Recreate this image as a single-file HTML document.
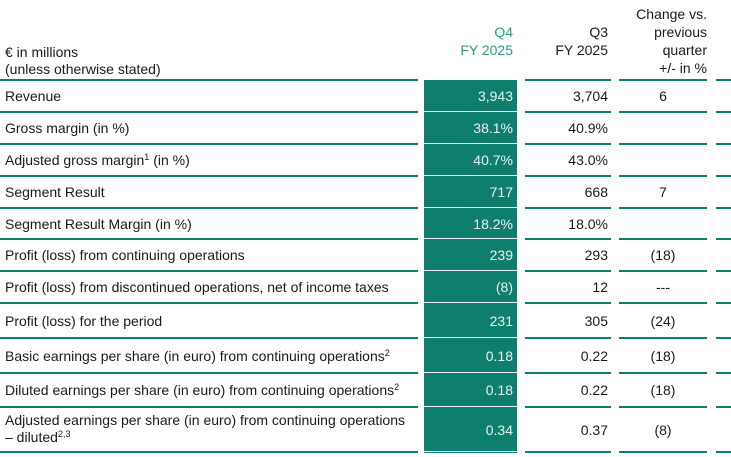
<!DOCTYPE html>
<html><head><meta charset="utf-8"><style>
body{margin:0;width:731px;height:457px;background:#fff;font-family:"Liberation Sans",sans-serif;font-size:14px;color:#1a1a1a;position:relative;overflow:hidden}
.a{position:absolute;white-space:nowrap;line-height:17px}
.ln{position:absolute;height:2px;background:#0e7f6e}
.g{position:absolute;left:424px;width:93px;top:80px;height:373px;background:#0e7f6e}
.wl{position:absolute;left:424px;width:93px;height:1px;background:#e8f3f0}
.v{position:absolute;text-align:right;white-space:nowrap;line-height:17px}
.c{position:absolute;text-align:center;white-space:nowrap;line-height:17px}
sup{font-size:9px;line-height:0;vertical-align:5px}
</style></head><body>
<div class="g"></div>
<div class="a" style="left:5px;top:44px">€ in millions</div>
<div class="a" style="left:5px;top:61px">(unless otherwise stated)</div>
<div class="v" style="left:424px;width:89px;top:24px;color:#2a9a88">Q4</div>
<div class="v" style="left:424px;width:89px;top:42px;color:#2a9a88">FY 2025</div>
<div class="v" style="left:525px;width:83px;top:24px">Q3</div>
<div class="v" style="left:525px;width:83px;top:42px">FY 2025</div>
<div class="v" style="left:619px;width:88px;top:6px">Change vs.</div>
<div class="v" style="left:619px;width:88px;top:24px">previous</div>
<div class="v" style="left:619px;width:88px;top:42px">quarter</div>
<div class="v" style="left:619px;width:88px;top:60px">+/- in %</div>
<div id="rows"></div>
<script>
var rows=[
[80,112,"Revenue","3,943","3,704","6"],
[112,144,"Gross margin (in %)","38.1%","40.9%",""],
[144,176,"Adjusted gross margin<sup>1</sup> (in %)","40.7%","43.0%",""],
[176,208,"Segment Result","717","668","7"],
[208,239,"Segment Result Margin (in %)","18.2%","18.0%",""],
[239,271,"Profit (loss) from continuing operations","239","293","(18)"],
[271,303,"Profit (loss) from discontinued operations, net of income taxes","(8)","12","---"],
[303,338,"Profit (loss) for the period","231","305","(24)"],
[338,373,"Basic earnings per share (in euro) from continuing operations<sup>2</sup>","0.18","0.22","(18)"],
[373,407,"Diluted earnings per share (in euro) from continuing operations<sup>2</sup>","0.18","0.22","(18)"],
[407,452,"Adjusted earnings per share (in euro) from continuing operations<br>– diluted<sup>2,3</sup>","0.34","0.37","(8)"]];
var h="";
function line(y){h+='<div class="ln" style="left:0;width:418px;top:'+y+'px"></div><div class="ln" style="left:525px;width:86px;top:'+y+'px"></div><div class="ln" style="left:619px;width:88px;top:'+y+'px"></div><div class="ln" style="left:716px;width:15px;top:'+y+'px"></div>';}
line(79);
rows.forEach(function(r){
 var m=(r[0]+r[1])/2-8;
 var lt=r[2].indexOf("<br>")>=0? r[0]+5 : m;
 h+='<div class="a" style="left:5px;top:'+lt+'px">'+r[2]+'</div>';
 h+='<div class="v" style="left:424px;width:89px;top:'+m+'px;color:#e6f3ef">'+r[3]+'</div>';
 h+='<div class="v" style="left:525px;width:83px;top:'+m+'px">'+r[4]+'</div>';
 h+='<div class="c" style="left:619px;width:88px;top:'+m+'px">'+r[5]+'</div>';
 line(r[1]-1);
 h+='<div class="wl" style="top:'+(r[1]-1)+'px"></div>';
});
document.getElementById("rows").innerHTML=h;
</script>
</body></html>
